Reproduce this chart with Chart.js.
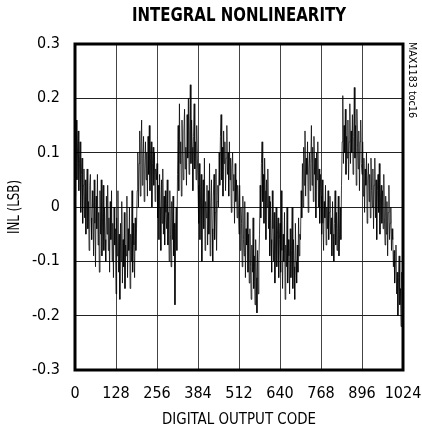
<!DOCTYPE html>
<html>
<head>
<meta charset="utf-8">
<script src="https://cdn.jsdelivr.net/npm/chart.js@4"></script>
<style>
  body { margin: 0; background: #fff; }
  canvas { display: block; }
</style>
</head>
<body>
<canvas id="inl" width="422" height="433"></canvas>
<script>
// INL, one value every 2 codes (0..1024), 16 per row = 32 codes
const inl = [
  0.02, 0.09, 0.16, 0.05, 0.11, 0.14, 0.03, 0.08, 0.12, -0.01, 0.06, 0.09, -0.03, 0.04, 0.07, -0.02,
  0.05, -0.05, 0.02, 0.07, -0.04, 0.01, -0.08, 0.04, 0.06, -0.02, -0.06, 0.03, 0.0, -0.09, 0.05, -0.03,
  -0.11, 0.02, -0.04, 0.06, -0.07, -0.01, -0.12, 0.03, -0.05, 0.05, -0.09, -0.02, 0.04, -0.08, 0.0, -0.06,
  -0.1, 0.02, -0.05, 0.04, -0.08, -0.02, -0.12, 0.01, -0.06, 0.03, -0.1, -0.03, -0.13, 0.0, -0.07, -0.04,
  -0.16, -0.02, -0.09, 0.03, -0.12, -0.05, -0.17, -0.03, -0.1, 0.01, -0.14, -0.06, -0.11, -0.01, -0.15, -0.07,
  -0.09, 0.02, -0.13, -0.04, -0.08, 0.0, -0.15, -0.05, -0.1, 0.03, -0.12, -0.03, -0.07, -0.13, -0.02, -0.08,
  -0.04, 0.03, 0.1, 0.0, 0.08, 0.14, 0.02, 0.11, 0.16, 0.04, 0.09, 0.13, 0.01, 0.07, 0.12, 0.05,
  0.1, 0.02, 0.13, 0.06, 0.15, 0.03, 0.09, 0.12, 0.0, 0.08, 0.11, 0.04, 0.1, 0.01, 0.07, 0.05,
  0.08, -0.02, 0.04, -0.06, 0.06, 0.0, -0.08, 0.05, -0.03, 0.07, -0.05, 0.02, -0.07, 0.03, -0.01, -0.04,
  0.05, -0.07, -0.01, -0.1, 0.03, -0.05, -0.11, 0.01, -0.06, 0.02, -0.09, -0.03, -0.18, -0.04, 0.0, -0.08,
  0.06, 0.15, 0.03, 0.19, 0.08, 0.12, 0.02, 0.16, 0.1, 0.05, 0.14, 0.18, 0.07, 0.11, 0.04, 0.17,
  0.09, 0.2, 0.06, 0.14, 0.225, 0.08, 0.16, 0.11, 0.03, 0.13, 0.19, 0.07, 0.12, 0.05, 0.15, 0.09,
  0.04, -0.03, 0.08, -0.06, 0.02, 0.06, -0.1, 0.0, 0.05, -0.04, 0.09, -0.08, 0.01, -0.02, 0.04, -0.07,
  0.03, -0.05, 0.08, -0.09, 0.0, 0.05, -0.04, -0.1, 0.02, 0.06, -0.06, -0.01, 0.07, -0.08, 0.01, 0.04,
  0.0, 0.1, 0.04, 0.13, 0.17, 0.05, 0.11, 0.02, 0.14, 0.08, 0.12, 0.03, 0.09, 0.15, 0.06, 0.1,
  0.02, 0.12, 0.05, 0.09, -0.01, 0.07, 0.1, 0.03, 0.06, -0.03, 0.08, 0.01, 0.05, -0.02, 0.04, 0.0,
  -0.05, 0.04, -0.08, 0.0, -0.03, -0.11, 0.02, -0.06, -0.09, 0.01, -0.13, -0.04, -0.07, -0.01, -0.12, -0.05,
  -0.14, -0.04, -0.11, -0.17, -0.07, -0.12, -0.02, -0.15, -0.09, -0.18, -0.06, -0.13, -0.195, -0.08, -0.16, -0.1,
  -0.05, 0.04, -0.02, 0.08, 0.12, 0.01, 0.06, -0.03, 0.09, 0.03, -0.06, 0.05, 0.0, 0.07, -0.04, 0.02,
  -0.09, 0.01, -0.06, -0.12, 0.03, -0.04, -0.1, -0.01, -0.14, -0.07, 0.0, -0.11, -0.05, -0.02, -0.13, -0.06,
  -0.03, -0.12, 0.03, -0.08, -0.15, -0.05, -0.1, -0.01, -0.17, -0.07, -0.11, 0.0, -0.14, -0.06, -0.09, -0.16,
  -0.04, -0.13, -0.08, 0.0, -0.15, -0.06, -0.11, -0.17, -0.03, -0.1, -0.14, -0.07, -0.12, -0.02, -0.09, -0.05,
  -0.06, 0.03, -0.02, 0.08, 0.0, 0.11, 0.04, 0.14, 0.02, 0.09, 0.06, 0.12, -0.01, 0.07, 0.1, 0.03,
  0.08, 0.15, 0.04, 0.11, 0.01, 0.13, 0.06, 0.09, -0.02, 0.1, 0.05, 0.12, 0.0, 0.07, -0.03, 0.06,
  0.02, -0.05, 0.05, -0.03, -0.08, 0.01, -0.02, 0.04, -0.07, 0.0, -0.04, 0.03, -0.06, -0.01, 0.02, -0.05,
  -0.02, -0.09, 0.01, -0.05, -0.1, -0.03, 0.03, -0.07, -0.01, -0.08, -0.04, 0.02, -0.09, -0.05, 0.0, -0.06,
  0.04, 0.12, 0.205, 0.08, 0.15, 0.1, 0.18, 0.06, 0.13, 0.09, 0.16, 0.05, 0.12, 0.19, 0.08, 0.14,
  0.1, 0.17, 0.06, 0.13, 0.22, 0.09, 0.15, 0.04, 0.18, 0.11, 0.07, 0.14, 0.03, 0.12, 0.16, 0.08,
  0.06, 0.12, 0.02, 0.09, -0.01, 0.07, 0.04, 0.1, -0.03, 0.05, 0.08, 0.01, 0.06, -0.02, 0.09, 0.03,
  0.0, 0.07, -0.04, 0.04, 0.09, -0.02, 0.05, -0.06, 0.03, 0.06, -0.01, 0.08, -0.05, 0.02, 0.04, -0.03,
  0.03, -0.04, 0.06, -0.02, -0.07, 0.02, -0.05, 0.01, -0.09, -0.01, 0.04, -0.06, -0.03, 0.0, -0.08, -0.04,
  -0.06, -0.11, -0.08, -0.14, -0.1, -0.07, -0.16, -0.12, -0.2, -0.13, -0.09, -0.18, -0.15, -0.22, -0.12, -0.19,
  -0.21
];
const codes = inl.map((v, i) => i * 2);

const xTicks = [0, 128, 256, 384, 512, 640, 768, 896, 1024];
const yTicks = [-0.3, -0.2, -0.1, 0, 0.1, 0.2, 0.3];

const FONT = "'Liberation Sans Narrow', 'DejaVu Sans Condensed', sans-serif";

// draw text squeezed/stretched to a given width
function fitText(ctx, text, x, y, w, font, rot) {
  ctx.save();
  ctx.font = font;
  const m = ctx.measureText(text).width;
  ctx.translate(x, y);
  if (rot) ctx.rotate(rot);
  if (w) ctx.scale(w / m, 1);
  ctx.textAlign = 'center';
  ctx.textBaseline = 'middle';
  ctx.fillStyle = '#000';
  ctx.fillText(text, 0, 0);
  ctx.restore();
}

const decor = {
  id: 'decor',
  afterDraw(chart) {
    const ctx = chart.ctx;
    const a = chart.chartArea;
    const cx = (a.left + a.right) / 2;
    const cy = (a.top + a.bottom) / 2;

    // frame
    ctx.save();
    ctx.strokeStyle = '#000';
    ctx.lineWidth = 3;
    ctx.strokeRect(a.left, a.top, a.right - a.left, a.bottom - a.top);
    ctx.restore();

    fitText(ctx, 'INTEGRAL NONLINEARITY', cx, 16, 214, 'bold 19px ' + FONT);
    fitText(ctx, 'DIGITAL OUTPUT CODE', cx, 420, 154, '16px ' + FONT);
    fitText(ctx, 'INL (LSB)', 15, cy, 54, '16px ' + FONT, -Math.PI / 2);
    fitText(ctx, 'MAX1183 toc16', 412, 80, 76, '10px ' + FONT, Math.PI / 2);
  }
};

new Chart(document.getElementById('inl'), {
  type: 'line',
  data: {
    datasets: [{
      data: codes.map((c, i) => ({ x: c, y: inl[i] })),
      borderColor: 'rgba(0,0,0,0.75)',
      borderWidth: 1,
      pointRadius: 0,
      tension: 0
    }]
  },
  options: {
    responsive: false,
    animation: false,
    layout: { padding: { left: 0, right: 19, top: 44, bottom: 0 } },
    plugins: { legend: { display: false }, tooltip: { enabled: false } },
    scales: {
      x: {
        type: 'linear',
        min: 0,
        max: 1024,
        afterBuildTicks: s => { s.ticks = xTicks.map(v => ({ value: v })); },
        afterFit: s => { s.height = 63; s.paddingLeft = 0; s.paddingRight = 0; },
        ticks: {
          font: { family: FONT, size: 16 },
          color: '#000',
          padding: 14,
          maxRotation: 0,
          autoSkip: false,
          callback: v => String(v)
        },
        grid: { color: '#444', lineWidth: 1, drawTicks: false },
        border: { display: false }
      },
      y: {
        min: -0.3,
        max: 0.3,
        afterBuildTicks: s => { s.ticks = yTicks.map(v => ({ value: v })); },
        afterFit: s => { s.width = 75; },
        ticks: {
          font: { family: FONT, size: 16 },
          color: '#000',
          padding: 15,
          callback: v => Math.abs(v) < 1e-9 ? '0' : v.toFixed(1)
        },
        grid: { color: '#222', lineWidth: 1, drawTicks: false },
        border: { display: false }
      }
    }
  },
  plugins: [decor]
});
</script>
</body>
</html>
